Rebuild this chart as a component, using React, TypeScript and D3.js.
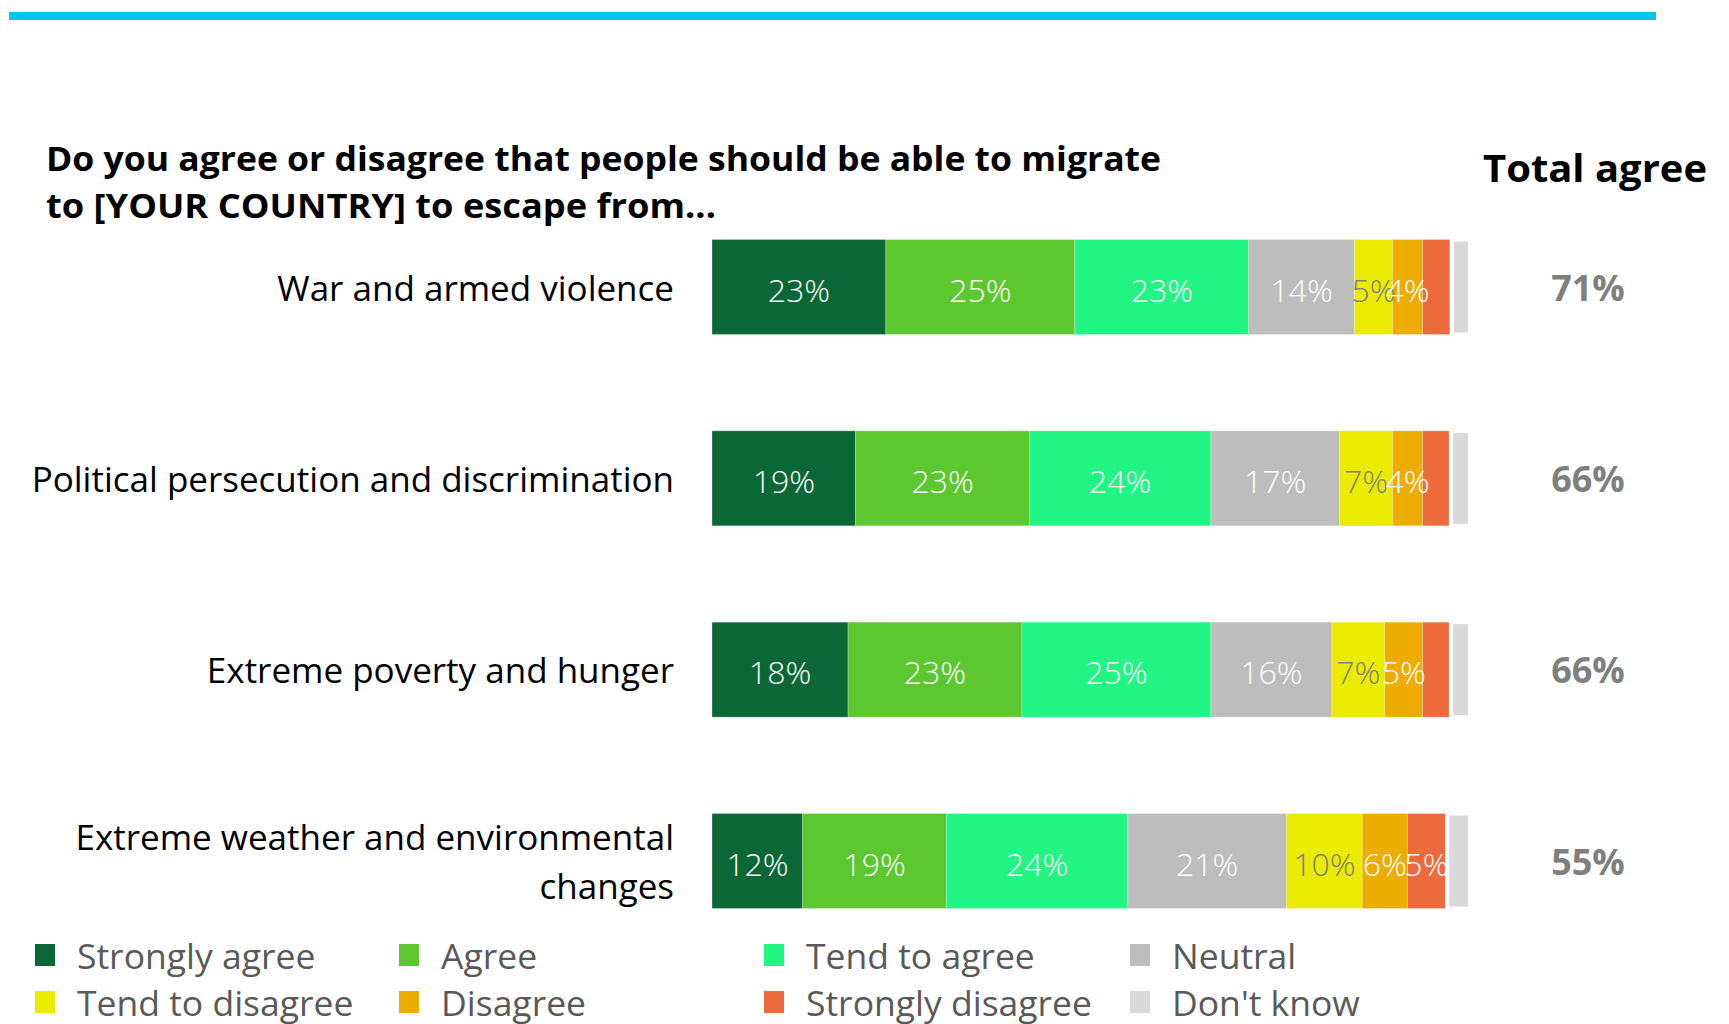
import React from "react";
import * as d3 from "d3";

const categories = [
  ["War and armed violence"],
  ["Political persecution and discrimination"],
  ["Extreme poverty and hunger"],
  ["Extreme weather and environmental", "changes"],
];
const seriesNames = [
  "Strongly agree",
  "Agree",
  "Tend to agree",
  "Neutral",
  "Tend to disagree",
  "Disagree",
  "Strongly disagree",
  "Don't know",
];
const seriesColors = [
  "#0B6836",
  "#5DC72F",
  "#22F584",
  "#BDBDBD",
  "#EBEB00",
  "#EDAC00",
  "#EC6A3C",
  "#D9D9D9",
];
const labelColors = ["#fff", "#fff", "#fff", "#fff", "#7F7F7F", "#fff", "#fff", "#fff"];
const row1 = [23, 25, 23, 14, 5, 4, 3.6, 2.4];
const row2 = [19, 23, 24, 17, 7, 4, 3.5, 2.5];
const row3 = [18, 23, 25, 16, 7, 5, 3.5, 2.5];
const row4 = [12, 19, 24, 21, 10, 6, 5, 3];
const values = [row1, row2, row3, row4];
const totalAgree = [71, 66, 66, 55];

const W = 1729;
const H = 1024;
const FONT = "'Open Sans', 'Noto Sans', sans-serif";

export default function App() {
  const x = d3.scaleLinear().domain([0, 100]).range([712, 1468]);
  const y = d3.scalePoint<number>().domain([0, 1, 2, 3]).range([287, 861]);
  const barH = 95;

  return (
    <svg width={W} height={H} style={{ position: "absolute", left: 0, top: 0 }}>
      <rect x={9} y={12} width={1647} height={8} fill="#00C5EE" />
      <text x={46} y={171} fontFamily={FONT} fontWeight={700} fontSize={34} fill="#000" textLength={1115} lengthAdjust="spacingAndGlyphs">
        Do you agree or disagree that people should be able to migrate
      </text>
      <text x={46} y={218} fontFamily={FONT} fontWeight={700} fontSize={34} fill="#000" textLength={670} lengthAdjust="spacingAndGlyphs">
        to [YOUR COUNTRY] to escape from...
      </text>
      <text x={1483} y={182} fontFamily={FONT} fontWeight={700} fontSize={38} fill="#000" textLength={224} lengthAdjust="spacingAndGlyphs">
        Total agree
      </text>

      {values.map((row, ri) => {
        const cy = y(ri)!;
        const cum = d3.cumsum(row);
        const lines = categories[ri];
        return (
          <g key={ri}>
            {lines.map((ln, li) => (
              <text
                key={li}
                x={674}
                y={cy + (li - (lines.length - 1) / 2) * 49}
                dominantBaseline="central"
                textAnchor="end"
                fontFamily={FONT}
                fontSize={35}
                fill="#000"
              >
                {ln}
              </text>
            ))}
            {row.map((v, si) => {
              const x0 = x(cum[si] - v);
              const x1 = x(cum[si]);
              const isDK = si === 7;
              return (
                <rect
                  key={si}
                  x={isDK ? x0 + 4 : x0}
                  y={isDK ? cy - barH / 2 + 2 : cy - barH / 2}
                  width={isDK ? x1 - x0 - 4 : x1 - x0}
                  height={isDK ? barH - 4 : barH}
                  fill={seriesColors[si]}
                  stroke={isDK ? "none" : "#ffffff"}
                  strokeOpacity={0.35}
                  strokeWidth={0.8}
                />
              );
            })}
            {row.map((v, si) => {
              if (si === 7) return null;
              if (si === 6 && v < 5) return null;
              const xm = (x(cum[si] - v) + x(cum[si])) / 2;
              return (
                <text
                  key={"l" + si}
                  x={xm}
                  y={cy + 2}
                  dominantBaseline="central"
                  textAnchor="middle"
                  fontFamily={FONT}
                  fontWeight={300}
                  fontSize={32}
                  fill={labelColors[si]}
                >
                  {Math.round(v)}%
                </text>
              );
            })}
            <text
              x={1588}
              y={cy}
              dominantBaseline="central"
              textAnchor="middle"
              fontFamily={FONT}
              fontWeight={700}
              fontSize={36}
              fill="#7F7F7F"
            >
              {totalAgree[ri]}%
            </text>
          </g>
        );
      })}

      {seriesNames.map((name, i) => {
        const colX = [35, 399, 764, 1130][i % 4];
        const rowY = [955, 1002][Math.floor(i / 4)];
        return (
          <g key={name}>
            <rect x={colX} y={rowY - 11} width={20} height={22} fill={seriesColors[i]} />
            <text x={colX + 42} y={rowY} dominantBaseline="central" fontFamily={FONT} fontSize={35.5} fill="#595959">
              {name}
            </text>
          </g>
        );
      })}
    </svg>
  );
}
